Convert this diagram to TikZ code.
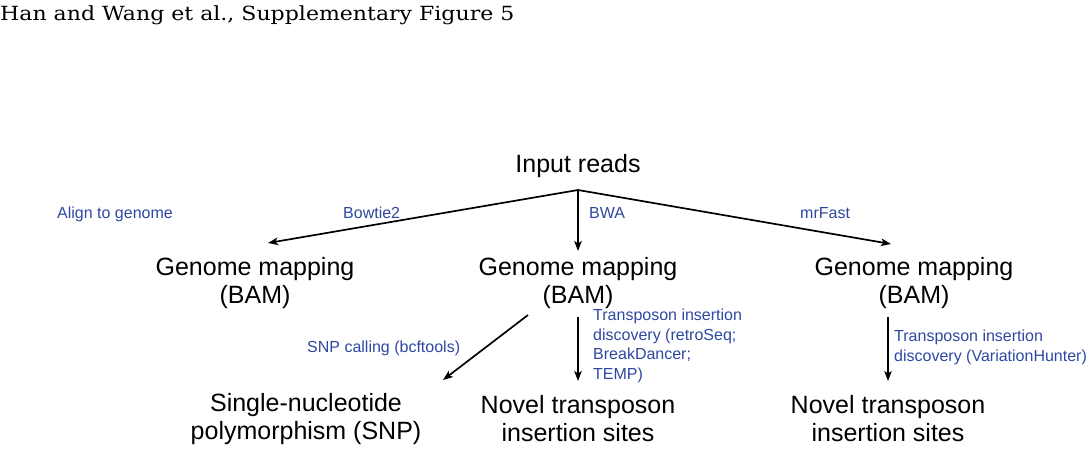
\documentclass[tikz,border=0pt]{standalone}
\usepackage{fontspec}
\setsansfont{Liberation Sans}
\newfontfamily\titlefont{DejaVu Serif}
\usetikzlibrary{arrows.meta}
\definecolor{labelblue}{RGB}{46,72,160}
\begin{document}
\begin{tikzpicture}[x=1pt,y=-1pt,
  mainbox/.style={font=\sffamily\fontsize{25}{28}\selectfont, align=center, inner sep=0pt},
  lbl/.style={font=\sffamily\fontsize{16}{19.5}\selectfont, text=labelblue, inner sep=0pt, align=left},
  arr/.style={line width=1.7pt, -{Stealth[length=10pt,width=7.5pt,inset=2.5pt]}}]
\useasboundingbox (0,0) rectangle (1091,455);
\node[anchor=base west, inner sep=0pt, xscale=1.13, font=\titlefont\fontsize{19.5}{22}\selectfont] (title) at (0,20) {Han and Wang et al., Supplementary Figure 5};

\node[mainbox, anchor=base] (input) at (578,172) {Input reads};
\coordinate (j) at (578,190);

\node[mainbox] (gm1) at (255,283) {Genome mapping\\(BAM)};
\node[mainbox] (gm2) at (578,283) {Genome mapping\\(BAM)};
\node[mainbox] (gm3) at (914,283) {Genome mapping\\(BAM)};

\coordinate (t1) at (268,243);
\coordinate (t2) at (578,251);
\coordinate (t3) at (891,244);
\draw[arr] (j) -- (t1);
\draw[arr] (j) -- (t2);
\draw[arr] (j) -- (t3);

\node[lbl, anchor=base west] (align) at (57,218) {Align to genome};
\node[lbl, anchor=base west] (bowtie) at (343,218) {Bowtie2};
\node[lbl, anchor=base west] (bwa) at (589,218) {BWA};
\node[lbl, anchor=base west] (mrfast) at (800,218) {mrFast};

\node[mainbox] (snp) at (306,419) {Single-nucleotide\\polymorphism (SNP)};
\node[mainbox] (nov2) at (578,419) {Novel transposon\\insertion sites};
\node[mainbox] (nov3) at (888,419) {Novel transposon\\insertion sites};

\coordinate (s1) at (528,315);
\coordinate (s2) at (443,380);
\coordinate (m1) at (578,317);
\coordinate (m2) at (578,381);
\coordinate (r1) at (888,317);
\coordinate (r2) at (888,381);
\draw[arr] (s1) -- (s2);
\draw[arr] (m1) -- (m2);
\draw[arr] (r1) -- (r2);

\node[lbl, anchor=base west] (snpl) at (307,352) {SNP calling (bcftools)};
\node[lbl, anchor=north west] (tl2) at ([yshift=12pt]593,321) {Transposon insertion\\discovery (retroSeq;\\BreakDancer;\\TEMP)};
\node[lbl, anchor=north west] (tl3) at ([yshift=12pt]894,342) {Transposon insertion\\discovery (VariationHunter)};
\end{tikzpicture}
\end{document}
